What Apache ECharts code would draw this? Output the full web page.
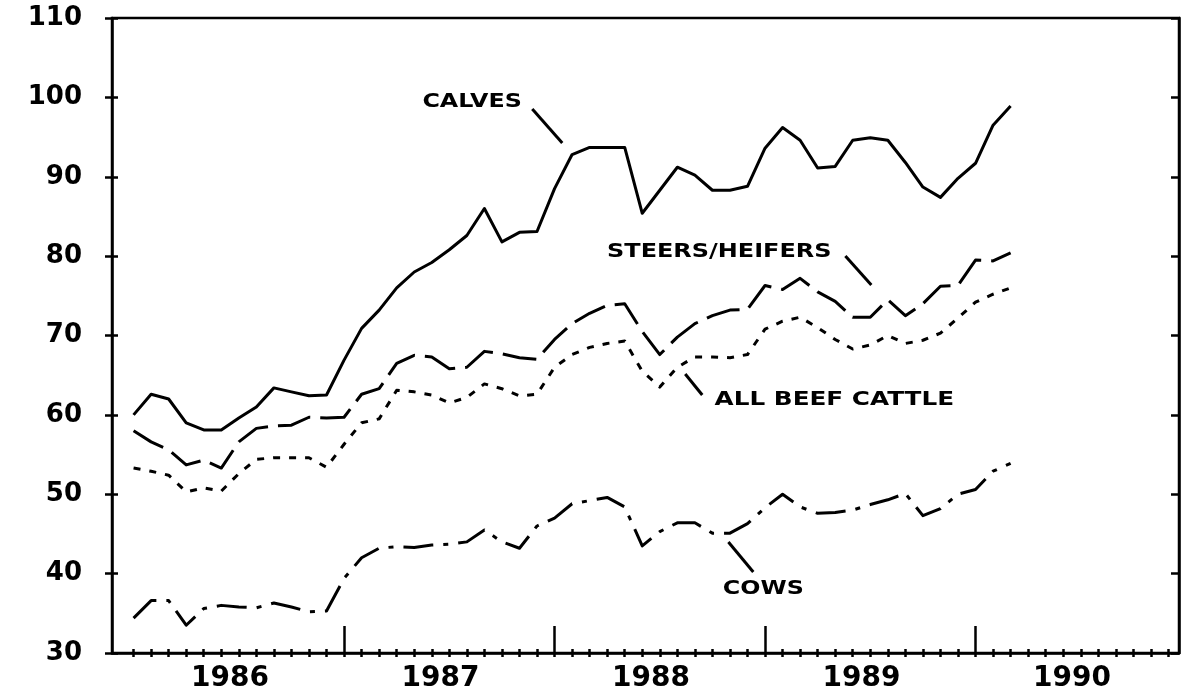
<!DOCTYPE html>
<html><head><meta charset="utf-8">
<script src="https://cdn.jsdelivr.net/npm/echarts@6/dist/echarts.min.js"></script>
<style>html,body{margin:0;padding:0;background:#fff}#c{width:1185px;height:693px}</style>
</head><body><div id="c"></div>
<script>
// month index: 0 = Jan 1986 ... 50 = Mar 1990
const yearLabels = ['1986','1987','1988','1989','1990'];
const calves = [60.0,62.6,62.0,59.0,58.1,58.1,59.6,61.0,63.4,62.9,
  62.4,62.5,66.9,70.9,73.2,76.0,78.0,79.2,80.8,82.6,
  86.0,81.8,83.0,83.1,88.5,92.8,93.7,93.7,93.7,85.4,
  88.3,91.2,90.2,88.3,88.3,88.8,93.6,96.2,94.6,91.1,
  91.3,94.6,94.9,94.6,91.8,88.7,87.4,89.8,91.7,96.5,98.9];
const steersHeifers = [58.0,56.6,55.6,53.7,54.3,53.3,56.6,58.3,58.6,58.7,
  59.7,59.6,59.7,62.6,63.3,66.5,67.5,67.3,65.8,66.0,
  68.0,67.7,67.2,67.0,69.5,71.5,72.8,73.8,74.0,70.5,
  67.6,69.8,71.5,72.5,73.2,73.3,76.3,75.8,77.2,75.5,
  74.3,72.3,72.3,74.5,72.5,74.0,76.2,76.3,79.5,79.4,80.4];
const allBeefCattle = [53.3,52.9,52.4,50.3,50.8,50.4,52.6,54.4,54.6,54.6,
  54.6,53.4,56.3,59.0,59.5,63.1,62.9,62.5,61.5,62.2,
  63.9,63.3,62.4,62.6,66.0,67.6,68.5,69.0,69.3,65.5,
  63.5,66.0,67.3,67.3,67.2,67.6,70.8,71.8,72.3,71.0,
  69.5,68.3,68.8,70.0,69.0,69.4,70.3,72.2,74.2,75.2,76.0];
const cows = [34.4,36.6,36.6,33.5,35.6,36.0,35.8,35.7,36.3,35.8,
  35.2,35.3,39.4,42.0,43.2,43.4,43.3,43.6,43.7,44.0,
  45.5,44.0,43.2,46.0,47.0,48.8,49.2,49.6,48.4,43.5,
  45.3,46.4,46.4,45.1,45.1,46.3,48.3,50.0,48.4,47.6,
  47.7,48.0,48.7,49.3,50.1,47.3,48.2,50.0,50.6,52.9,53.9];

const annoText = ['CALVES','STEERS/HEIFERS','ALL BEEF CATTLE','COWS'];
const annoAt = [[19.3,99.35],[33.39,80.52],[39.95,61.81],[35.9,38.0]];
const annoStretch = [1.25,1.26,1.3,1.25];
const leaders = [[[22.73,98.54],[24.44,94.25]],[[40.58,80.02],[42.06,76.36]],
  [[31.45,65.15],[32.42,62.50]],[[33.91,43.98],[35.33,40.20]]];

const X_MIN = -1.23, X_MAX = 59.6;
const monthTicks = Array.from({length:60},(_,i)=>i);
const yearTicks = [12,24,36,48];
const yearLabelPos = yearLabels.map((_,i)=>i*12+5.5);
const FONT = '"DejaVu Sans", sans-serif';
const toPts = arr => arr.map((v,i)=>[i,v]);

function xAx(extra){
  return Object.assign({type:'value',min:X_MIN,max:X_MAX,position:'bottom',
    splitLine:{show:false},axisLine:{show:false,onZero:false},
    axisTick:{show:false},axisLabel:{show:false}}, extra);
}
function yAx(extra){
  return Object.assign({type:'value',min:30,max:110,interval:10,position:'left',
    splitLine:{show:false},axisLine:{show:false,onZero:false},
    axisTick:{show:false},axisLabel:{show:false}}, extra);
}
const blk = {color:'#000', width:2.5};

const chart = echarts.init(document.getElementById('c'), null, {renderer:'canvas'});
const lineSeries = (name, data, type) => ({
  name, type:'line', xAxisIndex:0, yAxisIndex:0, data: toPts(data),
  symbol:'none', silent:true,
  lineStyle:{color:'#000', width:3, type, join:'round'}
});
const s0 = lineSeries('CALVES', calves, 'solid');
s0.markLine = {silent:true, symbol:['none','none'], label:{show:false},
  lineStyle:{color:'#000', width:3, type:'solid'},
  data: leaders.map(l=>[{coord:l[0]},{coord:l[1]}])};

chart.setOption({
  animation:false,
  backgroundColor:'#fff',
  grid:{left:112,right:6,top:18,bottom:40,show:true,borderColor:'#000',borderWidth:2.5,
    backgroundColor:'transparent',containLabel:false,outerBoundsMode:'none'},
  xAxis:[
    xAx({axisLine:{show:true,onZero:false,lineStyle:blk},
      axisTick:{show:true,inside:false,length:4,customValues:monthTicks,lineStyle:blk},
      axisLabel:{show:true,customValues:yearLabelPos,margin:12,
        formatter:v=>yearLabels[Math.round((v-5.5)/12)],
        color:'#000',fontSize:28,fontWeight:'bold',fontFamily:FONT}}),
    xAx({axisTick:{show:true,inside:true,length:4,customValues:monthTicks,lineStyle:blk}}),
    xAx({axisTick:{show:true,inside:true,length:27,customValues:yearTicks,lineStyle:blk}})
  ],
  yAxis:[
    yAx({axisLine:{show:true,onZero:false,lineStyle:blk},
      axisTick:{show:true,inside:false,length:7,lineStyle:blk},
      axisLabel:{show:true,margin:30,color:'#000',fontSize:26,fontWeight:'bold',fontFamily:FONT,
        padding:[5,0,0,0]}}),
    yAx({axisTick:{show:true,inside:true,length:6,lineStyle:blk}}),
    yAx({position:'right',axisLine:{show:true,onZero:false,lineStyle:blk},
      axisTick:{show:true,inside:true,length:8,lineStyle:blk}})
  ],
  series:[
    s0,
    lineSeries('STEERS/HEIFERS', steersHeifers, [34,10]),
    lineSeries('ALL BEEF CATTLE', allBeefCattle, [7,9]),
    lineSeries('COWS', cows, [30,10,5,10])
  ]
});

const g = annoText.map((t,i)=>{
  const p = chart.convertToPixel({xAxisIndex:0,yAxisIndex:0}, annoAt[i]);
  return {type:'text', x:p[0], y:p[1], scaleX:annoStretch[i], silent:true,
    style:{text:t, fill:'#000', fontSize:19, fontWeight:'bold', fontFamily:FONT,
      align:'center', verticalAlign:'middle'}};
});
chart.setOption({graphic:g});
</script>
</body></html>
